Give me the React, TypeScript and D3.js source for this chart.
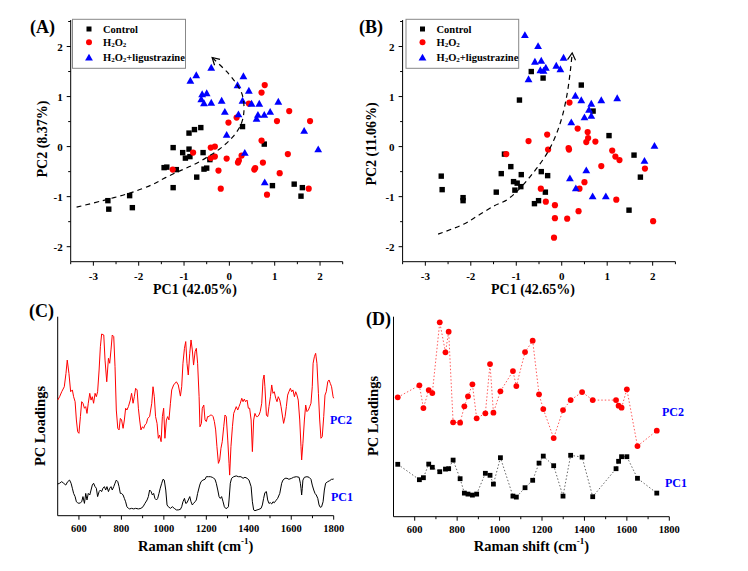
import React from 'react';
import * as d3 from 'd3';

const FONT = '"Liberation Serif", "Times New Roman", serif';

// ---------- Panel A (PCA scores) ----------
const ctrlA: [number, number][] = [
  [-2.68, -1.08], [-2.66, -1.25], [-2.2, -0.98], [-2.14, -1.22], [-1.44, -0.42], [-1.38, -0.41],
  [-1.24, -0.02], [-1.24, -0.82], [-1.17, -0.46], [-1.03, -0.12], [-0.97, -0.23], [-0.89, 0.27],
  [-0.89, -0.05], [-0.87, -0.2], [-0.77, 0.34], [-0.63, 0.38], [-0.72, -0.61], [-0.58, -0.12],
  [-0.56, -0.45], [-0.5, -0.43], [-0.43, -0.26], [0.29, 0.4], [0.77, 0.05], [0.95, -0.78],
  [1.43, -0.75], [1.58, -0.99], [1.61, -0.82],
];
const h2o2A: [number, number][] = [
  [0.78, 1.23], [0.71, 1.08], [0.43, 0.86], [1.32, 0.71], [1.05, 0.51], [1.78, 0.51], [-0.02, 0.48],
  [0.16, 0.58], [0.71, 0.12], [1.29, -0.15], [-0.41, -0.02], [-0.32, 0.0], [-0.32, -0.2], [-0.41, -0.23],
  [-0.8, -0.12], [-1.25, -0.46], [-0.06, -0.24], [0.27, -0.18], [0.21, -0.28], [0.19, -0.32],
  [0.74, -0.32], [0.57, -0.43], [0.55, -0.46], [1.11, -0.53], [-0.24, -0.48], [-0.19, -0.84],
  [0.83, -0.96], [1.75, -0.84],
];
const ligA: [number, number][] = [
  [-0.86, 1.31], [-0.73, 1.42], [-0.4, 1.57], [-0.6, 1.04], [-0.5, 1.06], [-0.62, 0.94], [-0.56, 0.86],
  [-0.4, 0.87], [-0.17, 0.91], [-0.1, 0.69], [0.18, 1.22], [0.31, 1.4], [0.43, 1.11], [0.29, 0.91],
  [0.49, 0.85], [0.66, 0.85], [1.08, 0.89], [0.9, 0.69], [0.77, 0.63], [0.63, 0.63], [0.6, 0.55],
  [0.2, 0.64], [-0.06, 0.23], [0.34, -0.13], [0.78, -0.72], [1.65, 0.31], [1.96, -0.06],
];
const trendA: [number, number][] = [
  [-3.37, -1.21], [-2.8, -1.08], [-2.2, -0.93], [-1.7, -0.76], [-1.41, -0.62], [-1.08, -0.48],
  [-0.78, -0.36], [-0.49, -0.21], [-0.19, -0.03], [0.07, 0.19], [0.25, 0.43], [0.32, 0.69],
  [0.29, 1.02], [0.18, 1.22], [-0.01, 1.45], [-0.38, 1.78],
];

// ---------- Panel B (PCA scores) ----------
const ctrlB: [number, number][] = [
  [-2.65, -0.59], [-2.63, -0.86], [-2.17, -1.02], [-2.17, -1.08], [-1.44, -0.91], [-1.33, -0.54],
  [-1.26, -0.15], [-1.12, -0.4], [-1.06, -0.7], [-0.98, -0.73], [-1.03, -0.87], [-0.9, -0.8],
  [-0.89, -0.56], [-0.93, 0.93], [-0.67, 1.5], [-0.41, 1.37], [-0.45, -0.5], [-0.31, -0.58],
  [-0.36, -0.91], [-0.6, -1.14], [-0.51, -1.08], [0.43, 1.23], [0.69, 0.71], [1.04, 0.22],
  [1.59, -0.17], [1.73, -0.61], [1.48, -1.27],
];
const h2o2B: [number, number][] = [
  [-1.22, -0.15], [-0.73, 0.11], [-0.32, 0.24], [-0.3, -0.06], [-0.46, -0.84], [-0.35, -1.1],
  [-0.15, -1.17], [-0.15, -1.43], [-0.17, -1.82], [0.12, -1.44], [0.37, -1.29], [0.39, -0.84],
  [0.5, -0.71], [0.17, 0.88], [0.35, 0.36], [0.15, -0.03], [0.16, -0.06], [0.57, 0.29], [0.58, 0.17],
  [0.54, 0.09], [0.74, 0.1], [0.87, -0.39], [1.11, -0.08], [1.18, -0.2], [1.27, -0.27], [1.2, -1.06],
  [1.83, -0.44], [2.01, -1.49],
];
const ligB: [number, number][] = [
  [-0.81, 2.22], [-0.52, 2.0], [-0.59, 1.69], [-0.45, 1.71], [-0.47, 1.52], [-0.4, 1.51], [-0.35, 1.57],
  [-0.12, 1.61], [-0.03, 1.54], [0.04, 1.77], [-0.73, 1.34], [0.3, 1.01], [0.43, 0.92], [0.65, 0.85],
  [0.87, 0.92], [1.22, 0.96], [0.6, 0.73], [0.65, 0.61], [0.5, 0.58], [0.21, 0.48], [0.54, -0.48],
  [1.82, -0.29], [0.18, -0.64], [0.31, -0.84], [0.68, -1.0], [0.97, -1.0], [2.04, 0.01],
];
const trendB: [number, number][] = [
  [-2.72, -1.75], [-2.16, -1.55], [-1.86, -1.39], [-1.5, -1.19], [-1.2, -1.06], [-0.98, -0.89],
  [-0.76, -0.67], [-0.54, -0.42], [-0.32, -0.13], [-0.14, 0.2], [0.01, 0.6], [0.12, 1.06],
  [0.19, 1.52], [0.23, 1.87],
];

const scoreXTicks = [-3, -2, -1, 0, 1, 2];
const scoreXMinor = [-3.5, -2.5, -1.5, -0.5, 0.5, 1.5, 2.5];
const scoreYTicks = [-2, -1, 0, 1, 2];
const scoreYMinor = [-1.5, -0.5, 0.5, 1.5, 2.5];

// ---------- Panel C (PC loadings, full spectrum) ----------
const loadC_PC2: [number, number][] = [
  [500, .581], [509, .598], [519, .623], [531, .648], [539, .715], [545, .782], [553, .715], [561, .623],
  [569, .632], [575, .598], [582, .573], [588, .481], [594, .422], [600, .414], [607, .498], [613, .573],
  [619, .565], [626, .540], [632, .548], [638, .514], [644, .565], [651, .615], [657, .581], [663, .598],
  [669, .565], [676, .615], [682, .598], [688, .623], [695, .732], [701, .849], [707, .913], [717, .908],
  [723, .782], [731, .673], [739, .791], [745, .766], [751, .833], [757, .908], [764, .900], [770, .749],
  [776, .531], [783, .439], [789, .431], [795, .489], [801, .481], [808, .439], [814, .481], [820, .540],
  [826, .531], [833, .548], [842, .581], [848, .615], [855, .565], [861, .598], [867, .640], [874, .632],
  [880, .540], [886, .481], [892, .431], [899, .447], [905, .439], [911, .456], [918, .464], [924, .489],
  [933, .498], [943, .565], [949, .648], [955, .598], [961, .498], [968, .464], [974, .389], [980, .405],
  [987, .372], [993, .498], [999, .540], [1005, .389], [1012, .481], [1018, .498], [1024, .481],
  [1031, .565], [1037, .632], [1046, .657], [1059, .673], [1068, .657], [1078, .601], [1084, .648],
  [1090, .766], [1097, .841], [1103, .875], [1109, .766], [1115, .707], [1122, .816], [1128, .883],
  [1134, .833], [1140, .757], [1147, .824], [1153, .841], [1159, .766], [1166, .598], [1170, .447],
  [1177, .464], [1181, .540], [1188, .556], [1194, .481], [1200, .473], [1206, .498], [1213, .498],
  [1219, .506], [1225, .506], [1232, .498], [1238, .473], [1244, .431], [1250, .347], [1257, .263],
  [1263, .280], [1269, .339], [1275, .372], [1282, .447], [1288, .506], [1294, .498], [1301, .380],
  [1307, .263], [1310, .204], [1316, .347], [1323, .447], [1329, .514], [1335, .531], [1341, .548],
  [1348, .531], [1354, .548], [1360, .565], [1367, .590], [1373, .573], [1379, .586], [1385, .573],
  [1392, .581], [1398, .540], [1404, .540], [1411, .481], [1417, .322], [1423, .481], [1429, .514],
  [1436, .498], [1442, .498], [1448, .506], [1454, .523], [1461, .565], [1467, .682], [1472, .707],
  [1476, .648], [1483, .506], [1489, .498], [1495, .548], [1502, .598], [1508, .657], [1514, .615],
  [1520, .623], [1527, .590], [1533, .573], [1539, .598], [1546, .581], [1552, .548], [1558, .506],
  [1564, .464], [1571, .498], [1577, .548], [1583, .606], [1589, .623], [1596, .640], [1602, .623],
  [1608, .632], [1615, .598], [1621, .623], [1627, .606], [1633, .581], [1640, .481], [1646, .347],
  [1649, .280], [1655, .364], [1662, .481], [1668, .556], [1674, .523], [1681, .531], [1687, .548],
  [1693, .565], [1699, .648], [1703, .766], [1709, .799], [1715, .816], [1721, .766], [1728, .615],
  [1734, .481], [1740, .389], [1746, .397], [1753, .498], [1759, .606], [1765, .623], [1772, .673],
  [1778, .682], [1784, .665], [1790, .648], [1797, .598], [1800, .590],
];
const loadC_PC1: [number, number][] = [
  [500, .159], [509, .163], [519, .171], [528, .163], [538, .154], [547, .171], [556, .179], [563, .163],
  [569, .138], [575, .112], [582, .096], [588, .070], [594, .065], [600, .062], [607, .065], [613, .070],
  [619, .096], [626, .062], [632, .112], [638, .079], [644, .112], [651, .104], [657, .129], [663, .154],
  [669, .163], [676, .146], [682, .138], [688, .096], [695, .121], [701, .129], [707, .121], [713, .138],
  [720, .146], [726, .129], [732, .146], [739, .121], [745, .138], [751, .146], [757, .129], [764, .146],
  [770, .163], [776, .179], [783, .171], [789, .146], [795, .112], [801, .112], [808, .104], [814, .087],
  [820, .070], [826, .045], [833, .037], [839, .034], [848, .037], [858, .034], [867, .037], [880, .034],
  [892, .037], [902, .045], [911, .062], [921, .079], [927, .096], [933, .129], [940, .121], [946, .104],
  [952, .112], [958, .087], [965, .079], [971, .087], [977, .112], [983, .138], [990, .163], [996, .183],
  [1002, .179], [1009, .129], [1015, .054], [1021, .045], [1031, .037], [1040, .045], [1049, .037],
  [1059, .029], [1068, .029], [1078, .032], [1084, .045], [1090, .070], [1097, .087], [1103, .062],
  [1109, .065], [1115, .079], [1122, .096], [1128, .070], [1134, .054], [1140, .062], [1147, .070],
  [1153, .079], [1159, .112], [1169, .154], [1175, .171], [1184, .179], [1194, .183], [1200, .196],
  [1210, .196], [1219, .196], [1228, .193], [1235, .188], [1241, .183], [1247, .163], [1254, .129],
  [1260, .096], [1266, .087], [1272, .096], [1279, .070], [1285, .045], [1291, .037], [1297, .037],
  [1304, .045], [1307, .079], [1313, .163], [1319, .188], [1329, .196], [1341, .200], [1351, .196],
  [1363, .196], [1373, .188], [1382, .193], [1392, .188], [1401, .179], [1411, .146], [1417, .070],
  [1423, .029], [1429, .025], [1439, .029], [1448, .032], [1458, .037], [1464, .054], [1470, .087],
  [1476, .116], [1483, .121], [1489, .079], [1495, .062], [1502, .065], [1508, .059], [1514, .070],
  [1520, .065], [1527, .075], [1536, .087], [1546, .112], [1555, .163], [1561, .179], [1571, .188],
  [1580, .188], [1589, .183], [1602, .188], [1611, .193], [1624, .196], [1637, .193], [1643, .163],
  [1646, .138], [1649, .104], [1652, .138], [1655, .179], [1662, .193], [1674, .196], [1684, .193],
  [1693, .183], [1699, .154], [1706, .129], [1712, .112], [1718, .104], [1725, .087], [1731, .054],
  [1737, .042], [1743, .045], [1750, .070], [1756, .129], [1762, .163], [1772, .171], [1781, .176],
  [1790, .183], [1797, .183], [1800, .185],
];

// ---------- Panel D (PC loadings, selected bands) ----------
const bandsD = [520, 622, 641, 666, 683, 718, 745, 760, 781, 814, 834, 851, 872, 892, 933, 955, 971, 1004,
  1063, 1079, 1120, 1156, 1186, 1206, 1255, 1299, 1335, 1389, 1439, 1549, 1561, 1575, 1600, 1650, 1741];
const pc2D = [0.597, 0.657, 0.543, 0.633, 0.618, 0.972, 0.822, 0.925, 0.472, 0.470, 0.552, 0.602, 0.662,
  0.492, 0.517, 0.763, 0.520, 0.627, 0.728, 0.653, 0.823, 0.880, 0.612, 0.538, 0.393, 0.533, 0.583, 0.623,
  0.583, 0.583, 0.555, 0.545, 0.637, 0.353, 0.430];
const pc1D = [0.262, 0.185, 0.195, 0.263, 0.247, 0.225, 0.238, 0.240, 0.283, 0.190, 0.118, 0.113, 0.108,
  0.113, 0.217, 0.207, 0.163, 0.295, 0.103, 0.098, 0.145, 0.182, 0.268, 0.303, 0.255, 0.103, 0.307, 0.298,
  0.100, 0.240, 0.277, 0.300, 0.300, 0.192, 0.118];

const ramanTicks = [600, 800, 1000, 1200, 1400, 1600, 1800];
const ramanMinor = [700, 900, 1100, 1300, 1500, 1700];

const RED = '#ff0000';
const BLUE = '#0000ff';

type Pt = [number, number];
type Sc = d3.ScaleLinear<number, number>;

function Square({ cx, cy, s = 5.4 }: { cx: number; cy: number; s?: number }) {
  return <rect x={cx - s / 2} y={cy - s / 2} width={s} height={s} fill="#000" />;
}
function Dot({ cx, cy, r = 3.1 }: { cx: number; cy: number; r?: number }) {
  return <circle cx={cx} cy={cy} r={r} fill={RED} />;
}
function Tri({ cx, cy }: { cx: number; cy: number }) {
  return <path d={`M${cx},${cy - 4.2}L${cx + 3.9},${cy + 2.6}L${cx - 3.9},${cy + 2.6}Z`} fill={BLUE} />;
}

function H2O2Text({ x, y, suffix = '' }: { x: number; y: number; suffix?: string }) {
  return (
    <text x={x} y={y} fontFamily={FONT} fontWeight="bold" fontSize={10.5} dominantBaseline="central">
      H<tspan dy={3} fontSize={7}>2</tspan><tspan dy={-3}>O</tspan><tspan dy={3} fontSize={7}>2</tspan>
      <tspan dy={-3}>{suffix}</tspan>
    </text>
  );
}

function ScorePanel(props: {
  x: Sc; y: Sc; ctrl: Pt[]; h2o2: Pt[]; lig: Pt[]; trend: Pt[]; markerId: string;
  label: string; labelX: number; labelY: number; xTitle: string; xTitleX: number;
  yTitle: string; yTitleX: number; yTitleY: number; legendX: number; legendW: number;
}) {
  const { x, y } = props;
  const [x0, x1] = x.range();
  const [yb, yt] = y.range();
  const line = d3.line<Pt>().x(d => x(d[0])).y(d => y(d[1])).curve(d3.curveCatmullRom.alpha(0.5));
  const lx = props.legendX;
  return (
    <g>
      <defs>
        <marker id={props.markerId} viewBox="-10 -6 12 12" refX={0} refY={0} markerWidth={12} markerHeight={12}
          markerUnits="userSpaceOnUse" orient="auto">
          <path d="M-7,-4L0,0L-7,4" fill="none" stroke="#000" strokeWidth={1.2} />
        </marker>
      </defs>
      {/* axes */}
      <line x1={x0} x2={x0} y1={yb} y2={yt} stroke="#000" strokeWidth={1} />
      <line x1={x0} x2={x1} y1={yb} y2={yb} stroke="#000" strokeWidth={1} />
      {scoreXTicks.map(t => (
        <g key={'xt' + t}>
          <line x1={x(t)} x2={x(t)} y1={yb} y2={yb + 4} stroke="#000" />
          <text x={x(t)} y={yb + 14} textAnchor="middle" dominantBaseline="central" fontFamily={FONT}
            fontWeight="bold" fontSize={11}>{t}</text>
        </g>
      ))}
      {scoreXMinor.map(t => (
        <line key={'xm' + t} x1={x(t)} x2={x(t)} y1={yb} y2={yb + 2.5} stroke="#000" />
      ))}
      {scoreYTicks.map(t => (
        <g key={'yt' + t}>
          <line x1={x0 - 4} x2={x0} y1={y(t)} y2={y(t)} stroke="#000" />
          <text x={x0 - 8} y={y(t)} textAnchor="end" dominantBaseline="central" fontFamily={FONT}
            fontWeight="bold" fontSize={11}>{t}</text>
        </g>
      ))}
      {scoreYMinor.map(t => (
        <line key={'ym' + t} x1={x0 - 2.5} x2={x0} y1={y(t)} y2={y(t)} stroke="#000" />
      ))}
      {/* points */}
      {props.ctrl.map((d, i) => <Square key={'c' + i} cx={x(d[0])} cy={y(d[1])} />)}
      {props.h2o2.map((d, i) => <Dot key={'h' + i} cx={x(d[0])} cy={y(d[1])} />)}
      {props.lig.map((d, i) => <Tri key={'l' + i} cx={x(d[0])} cy={y(d[1])} />)}
      {/* trend arrow */}
      <path d={line(props.trend) || ''} fill="none" stroke="#000" strokeWidth={1.2} strokeDasharray="5,4"
        markerEnd={`url(#${props.markerId})`} />
      {/* legend */}
      <rect x={lx} y={19.3} width={props.legendW} height={49} fill="#fff" stroke="#888" strokeWidth={1} />
      <Square cx={lx + 16.5} cy={29} s={5} />
      <text x={lx + 30.5} y={29} fontFamily={FONT} fontWeight="bold" fontSize={10.5} dominantBaseline="central">Control</text>
      <Dot cx={lx + 16.5} cy={42.3} r={3} />
      <H2O2Text x={lx + 30.5} y={42} />
      <Tri cx={lx + 16.5} cy={58} />
      <H2O2Text x={lx + 30.5} y={57} suffix="+ligustrazine" />
      {/* titles */}
      <text x={props.labelX} y={props.labelY} fontFamily={FONT} fontWeight="bold" fontSize={18}
        dominantBaseline="central">{props.label}</text>
      <text x={props.xTitleX} y={289} textAnchor="middle" dominantBaseline="central" fontFamily={FONT}
        fontWeight="bold" fontSize={14}>{props.xTitle}</text>
      <text transform={`translate(${props.yTitleX},${props.yTitleY}) rotate(-90)`} textAnchor="middle"
        dominantBaseline="central" fontFamily={FONT} fontWeight="bold" fontSize={14}>{props.yTitle}</text>
    </g>
  );
}

function LoadingAxes(props: {
  x: Sc; y: Sc; label: string; labelX: number; labelY: number; yTitleX: number; yTitleY: number;
}) {
  const { x, y } = props;
  const [x0, x1] = x.range();
  const [yb, yt] = y.range();
  const cx = (x0 + x1) / 2;
  return (
    <g>
      <line x1={x0} x2={x0} y1={yb} y2={yt} stroke="#000" />
      <line x1={x0} x2={x1} y1={yb} y2={yb} stroke="#000" />
      {ramanTicks.map(t => (
        <g key={'t' + t}>
          <line x1={x(t)} x2={x(t)} y1={yb} y2={yb + 4} stroke="#000" />
          <text x={x(t)} y={yb + 12.5} textAnchor="middle" dominantBaseline="central" fontFamily={FONT}
            fontWeight="bold" fontSize={10.5}>{t}</text>
        </g>
      ))}
      {ramanMinor.map(t => (
        <line key={'m' + t} x1={x(t)} x2={x(t)} y1={yb} y2={yb + 2.5} stroke="#000" />
      ))}
      <text x={cx + 0} y={546} textAnchor="middle" dominantBaseline="central" fontFamily={FONT}
        fontWeight="bold" fontSize={14.5}>
        Raman shift (cm<tspan dy={-5} fontSize={9}>-1</tspan><tspan dy={5}>)</tspan>
      </text>
      <text transform={`translate(${props.yTitleX},${props.yTitleY}) rotate(-90)`} textAnchor="middle"
        dominantBaseline="central" fontFamily={FONT} fontWeight="bold" fontSize={14.5}>PC Loadings</text>
      <text x={props.labelX} y={props.labelY} fontFamily={FONT} fontWeight="bold" fontSize={18}
        dominantBaseline="central">{props.label}</text>
    </g>
  );
}

export default function App() {
  const yS = d3.scaleLinear().domain([-2.3, 2.53]).range([261.7, 20]);
  const xA = d3.scaleLinear().domain([-3.5, 2.5]).range([70.7, 342.7]);
  const xB = d3.scaleLinear().domain([-3.5, 2.5]).range([402.6, 675.4]);
  const xC = d3.scaleLinear().domain([500, 1800]).range([57.7, 333.7]);
  const yC = d3.scaleLinear().domain([0, 1]).range([515.7, 316.7]);
  const xD = d3.scaleLinear().domain([500, 1800]).range([393.5, 669.3]);
  const yD = d3.scaleLinear().domain([0, 1]).range([516.7, 316.7]);

  const lineC = d3.line<Pt>().x(d => xC(d[0])).y(d => yC(d[1]));
  const pc2Pts: Pt[] = bandsD.map((b, i) => [b, pc2D[i]]);
  const pc1Pts: Pt[] = bandsD.map((b, i) => [b, pc1D[i]]);
  const lineD = d3.line<Pt>().x(d => xD(d[0])).y(d => yD(d[1]));

  return (
    <svg width={748} height={571} style={{ position: 'absolute', left: 0, top: 0, background: '#fff' }}>
      <rect x={0} y={0} width={748} height={571} fill="#fff" />
      <ScorePanel x={xA} y={yS} ctrl={ctrlA} h2o2={h2o2A} lig={ligA} trend={trendA} markerId="arrA"
        label="(A)" labelX={30} labelY={27} xTitle="PC1 (42.05%)" xTitleX={195}
        yTitle="PC2 (8.37%)" yTitleX={42.7} yTitleY={139} legendX={72.5} legendW={113} />
      <ScorePanel x={xB} y={yS} ctrl={ctrlB} h2o2={h2o2B} lig={ligB} trend={trendB} markerId="arrB"
        label="(B)" labelX={359} labelY={27} xTitle="PC1 (42.65%)" xTitleX={533}
        yTitle="PC2 (11.06%)" yTitleX={371.7} yTitleY={144} legendX={406} legendW={112.7} />

      {/* Panel C */}
      <LoadingAxes x={xC} y={yC} label="(C)" labelX={29} labelY={311} yTitleX={40} yTitleY={426} />
      <path d={lineC(loadC_PC2) || ''} fill="none" stroke={RED} strokeWidth={1} />
      <path d={lineC(loadC_PC1) || ''} fill="none" stroke="#000" strokeWidth={1} />
      <text x={330} y={420} fontFamily={FONT} fontWeight="bold" fontSize={12} fill={BLUE} dominantBaseline="central">PC2</text>
      <text x={331} y={497} fontFamily={FONT} fontWeight="bold" fontSize={12} fill={BLUE} dominantBaseline="central">PC1</text>

      {/* Panel D */}
      <LoadingAxes x={xD} y={yD} label="(D)" labelX={366} labelY={319} yTitleX={373.3} yTitleY={416} />
      <path d={lineD(pc2Pts) || ''} fill="none" stroke="#ff5a5a" strokeWidth={1} strokeDasharray="1.5,2" />
      <path d={lineD(pc1Pts) || ''} fill="none" stroke="#666" strokeWidth={1} strokeDasharray="1.5,2" />
      {pc2Pts.map((d, i) => <Dot key={'d2' + i} cx={xD(d[0])} cy={yD(d[1])} r={2.9} />)}
      {pc1Pts.map((d, i) => <Square key={'d1' + i} cx={xD(d[0])} cy={yD(d[1])} s={4.8} />)}
      <text x={662} y={412} fontFamily={FONT} fontWeight="bold" fontSize={12} fill={BLUE} dominantBaseline="central">PC2</text>
      <text x={665} y={483} fontFamily={FONT} fontWeight="bold" fontSize={12} fill={BLUE} dominantBaseline="central">PC1</text>
    </svg>
  );
}
